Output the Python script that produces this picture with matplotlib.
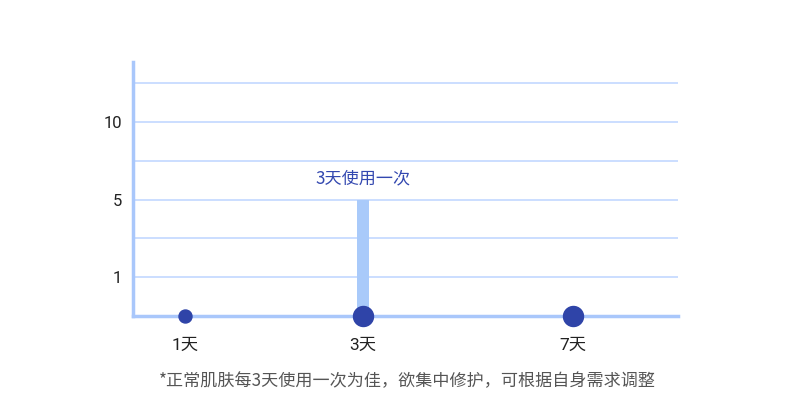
import matplotlib
matplotlib.use("Agg")
import matplotlib.pyplot as plt

plt.rcParams['font.family'] = ['Noto Sans CJK SC', 'DejaVu Sans']

# Data
categories = ["1天", "3天", "7天"]
x_pos = [0.0, 1.0, 2.18]            # layout positions of categories
y_levels = [1, 3, 5]                 # gridline level of each labelled tick
y_tick_labels = ["1", "5", "10"]
bar_category = "3天"
bar_level = 3                        # bar reaches the "5" line
bar_label = "3天使用一次"
dot_sizes = [13, 20, 20]             # marker diameter (px)
footnote = "*正常肌肤每3天使用一次为佳，欲集中修护，可根据自身需求调整"

fig = plt.figure(figsize=(8, 4.07), dpi=100)
ax = fig.add_axes([0.16625, 0.2236, 0.68125, 0.6241])

grid_c = "#C2D8FF"
axis_c = "#A9C7FB"
dot_c = "#2F44A8"
bar_c = "#A9CAFA"
mixed = ['Roboto', 'Noto Sans CJK SC', 'DejaVu Sans']

ax.set_xlim(-0.292, 2.77)
ax.set_ylim(0, 6.55)

for lv in range(1, 7):
    ax.axhline(lv, color=grid_c, lw=1.2, zorder=1)

bi = categories.index(bar_category)
ax.bar([x_pos[bi]], [bar_level], width=0.072, color=bar_c, zorder=2)
ax.text(x_pos[bi], bar_level + 0.55, bar_label, ha="center", va="center",
        fontsize=12.3, color="#3348B0", zorder=4)

for x, s in zip(x_pos, dot_sizes):
    ax.plot([x], [0], "o", ms=s * 0.72, color=dot_c, mec=dot_c, zorder=5, clip_on=False)

for side in ["top", "right"]:
    ax.spines[side].set_visible(False)
for side in ["left", "bottom"]:
    ax.spines[side].set_color(axis_c)
    ax.spines[side].set_linewidth(2.5)
ax.spines["bottom"].set_zorder(3)

ax.set_xticks(x_pos)
ax.set_xticklabels(categories, fontsize=12.5, color="#222222", family=mixed)
ax.set_yticks(y_levels)
ax.set_yticklabels(y_tick_labels, fontsize=12, color="#222222", family=mixed)
ax.tick_params(axis="x", length=0, pad=16)
ax.tick_params(axis="y", length=0, pad=8)

fig.text(0.509, 1 - 381 / 407, footnote, ha="center", va="center",
         fontsize=12.3, color="#555555")

fig.savefig("out.png", dpi=100, facecolor="white")
